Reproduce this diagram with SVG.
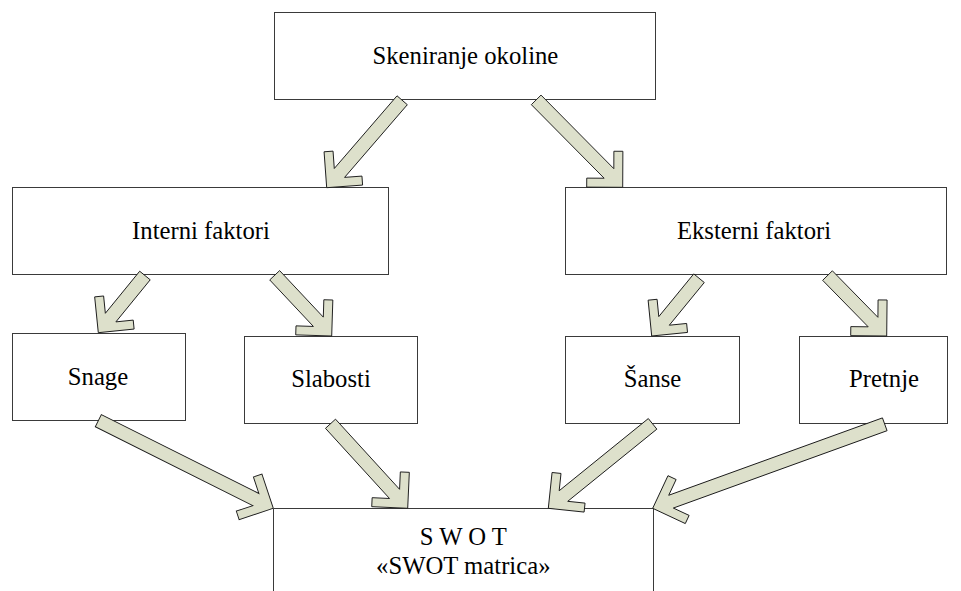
<svg xmlns="http://www.w3.org/2000/svg" width="961" height="591" viewBox="0 0 961 591">
<style>
.box{fill:#ffffff;stroke:#3a3a3a;stroke-width:1}
.lbl{font-size:24.7px;fill:#000;text-anchor:middle}
.arr{fill:#dde0cb;stroke:#1a1a1a;stroke-width:0.9;stroke-linejoin:miter}
</style>
<rect width="961" height="591" fill="#ffffff"/>
<g font-family="'Liberation Serif', 'DejaVu Serif', 'Times New Roman', serif">
<g id="skeniranje"><rect class="box" x="274.5" y="12.5" width="381" height="87"/><text class="lbl" x="465.4" y="64">Skeniranje okoline</text></g>
<g id="interni"><rect class="box" x="12.5" y="187.5" width="376" height="87"/><text class="lbl" x="201" y="239">Interni faktori</text></g>
<g id="eksterni"><rect class="box" x="565.5" y="187.5" width="381" height="87"/><text class="lbl" x="754" y="239">Eksterni faktori</text></g>
<g id="snage"><rect class="box" x="12.5" y="333.5" width="173" height="87"/><text class="lbl" x="98" y="385">Snage</text></g>
<g id="slabosti"><rect class="box" x="244.5" y="336.5" width="173" height="87"/><text class="lbl" x="331" y="387">Slabosti</text></g>
<g id="sanse"><rect class="box" x="565.5" y="336.5" width="174" height="87"/><text class="lbl" x="652.5" y="387">Šanse</text></g>
<g id="pretnje"><rect class="box" x="799.5" y="336.5" width="148" height="87"/><text class="lbl" x="884" y="387">Pretnje</text></g>
<g id="swot"><path class="box" d="M273.5,592 V508.5 H653.5 V592"/><text class="lbl" x="463.3" y="545">S W O T</text><text class="lbl" x="463.3" y="574">«SWOT matrica»</text></g>
</g>
<g id="connectors">
<path class="arr" transform="translate(326.7,187.7) rotate(130.8)" d="M-115.5,-6.8 L-19.5,-6.8 L-31.82,-19.09 L-25.46,-25.46 L0,0 L-25.46,25.46 L-31.82,19.09 L-19.5,6.8 L-115.5,6.8 Z"/>
<path class="arr" transform="translate(622.7,187.3) rotate(45.3)" d="M-123,-6.8 L-19.5,-6.8 L-31.82,-19.09 L-25.46,-25.46 L0,0 L-25.46,25.46 L-31.82,19.09 L-19.5,6.8 L-123,6.8 Z"/>
<path class="arr" transform="translate(98.3,332.7) rotate(129.2)" d="M-73.8,-6.8 L-19.5,-6.8 L-31.82,-19.09 L-25.46,-25.46 L0,0 L-25.46,25.46 L-31.82,19.09 L-19.5,6.8 L-73.8,6.8 Z"/>
<path class="arr" transform="translate(331.7,336) rotate(46.8)" d="M-83.3,-6.8 L-19.5,-6.8 L-31.82,-19.09 L-25.46,-25.46 L0,0 L-25.46,25.46 L-31.82,19.09 L-19.5,6.8 L-83.3,6.8 Z"/>
<path class="arr" transform="translate(651.7,336) rotate(129.3)" d="M-74.7,-6.8 L-19.5,-6.8 L-31.82,-19.09 L-25.46,-25.46 L0,0 L-25.46,25.46 L-31.82,19.09 L-19.5,6.8 L-74.7,6.8 Z"/>
<path class="arr" transform="translate(886.7,336) rotate(45.6)" d="M-84.6,-6.8 L-19.5,-6.8 L-31.82,-19.09 L-25.46,-25.46 L0,0 L-25.46,25.46 L-31.82,19.09 L-19.5,6.8 L-84.6,6.8 Z"/>
<path class="arr" transform="translate(273.3,508.3) rotate(26.6)" d="M-195.7,-6.8 L-19.5,-6.8 L-31.82,-19.09 L-25.46,-25.46 L0,0 L-25.46,25.46 L-31.82,19.09 L-19.5,6.8 L-195.7,6.8 Z"/>
<path class="arr" transform="translate(407.7,508.3) rotate(47.6)" d="M-114.5,-6.8 L-19.5,-6.8 L-31.82,-19.09 L-25.46,-25.46 L0,0 L-25.46,25.46 L-31.82,19.09 L-19.5,6.8 L-114.5,6.8 Z"/>
<path class="arr" transform="translate(548.3,508.3) rotate(141)" d="M-134.2,-6.8 L-19.5,-6.8 L-31.82,-19.09 L-25.46,-25.46 L0,0 L-25.46,25.46 L-31.82,19.09 L-19.5,6.8 L-134.2,6.8 Z"/>
<path class="arr" transform="translate(652.7,508.3) rotate(160.1)" d="M-246.8,-6.8 L-19.5,-6.8 L-31.82,-19.09 L-25.46,-25.46 L0,0 L-25.46,25.46 L-31.82,19.09 L-19.5,6.8 L-246.8,6.8 Z"/>
</g>
</svg>
